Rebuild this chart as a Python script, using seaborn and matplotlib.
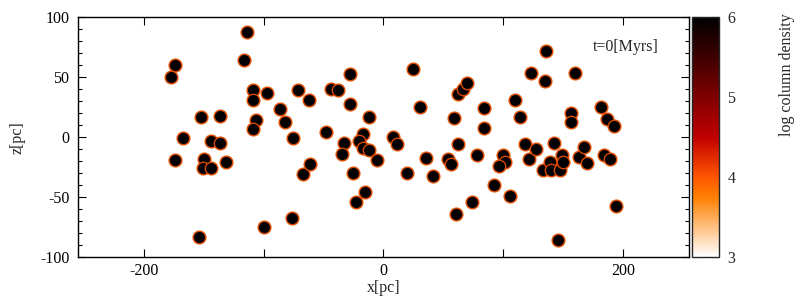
import matplotlib
matplotlib.use("Agg")
import matplotlib.pyplot as plt
import matplotlib.colors as mcolors
import matplotlib.cm as cm
from matplotlib.ticker import MultipleLocator
import pandas as pd
import seaborn as sns

# posiciones de las nubes (pc)
x_pc = [-114, -116, -174, -177, -109, -109, -97, -71, -62, -86, -82, -75, -106, -109,
        -152, -136, -167, -144, -136, -174, -149.5, -150.5, -144, -131, -153.5, -100,
        -76, -67, -61, -48, -44, -38, -28, -28, -12, -32.5, -34.5, -17, -20.5, -17, -12,
        -5.5, -25, -15, -22.5, 8, 11, 20, 25, 30.5, 35.5, 41.5, 53.5, 56.5, 60.5, 74,
        62.5, 78, 58.5, 62.5, 66, 69.5, 83.5, 83.5, 109.5, 113.5, 92, 105.5, 99.5, 101,
        96.5, 118, 121, 127, 123, 135.5, 135, 142.5, 133, 138.5, 140, 147, 148.5, 149.5,
        159.5, 156.5, 156.5, 163, 167.5, 169.5, 181.5, 186.5, 192, 183.5, 188.5, 193.5,
        145.5]
z_pc = [88, 64.5, 60, 50, 39.5, 31, 37, 39.5, 31, 23.5, 13, -0.5, 14, 7, 17, 18, -0.5,
        -3, -4.5, -19, -18.5, -26, -26, -21, -83.5, -75, -67.5, -31, -22.5, 4, 40.5,
        39.5, 52.5, 28, 17, -4.5, -14, 2.5, -3, -9, -11, -19, -29.5, -46, -54, 0, -6,
        -29.5, 57, 25.5, -17, -32.5, -18.5, -22.5, -64, -54.5, -5.5, -15, 16, 36, 40.5,
        45.5, 24, 8, 31, 17, -40, -49.5, -14.5, -20.5, -24, -6, -18.5, -10, 53.5, 72,
        46.5, -4.5, -27.5, -20.5, -27.5, -27, -15, -20.5, 53.5, 20.5, 13, -16.5, -8,
        -21.5, 25, 15, 9, -15, -18.5, -57.5, -86]

xticks = [-200, -100, 0, 100, 200]
xticklabels = ["-200", "", "0", "", "200"]
yticks = [-100, -50, 0, 50, 100]
cbar_ticks = [3, 4, 5, 6]

df = pd.DataFrame({"x": x_pc, "z": z_pc})

sns.set_style("ticks")
plt.rcParams["font.family"] = ["Liberation Serif", "DejaVu Serif"]
plt.rcParams["font.size"] = 11.5
plt.rcParams["axes.unicode_minus"] = False

fig = plt.figure(figsize=(8, 3), dpi=100)
ax = fig.add_axes([0.097, 0.1433, 0.7646, 0.799])
cax = fig.add_axes([0.8654, 0.1433, 0.0334, 0.799])

# halo naranja suave + nucleo negro
sns.scatterplot(data=df, x="x", y="z", ax=ax, s=112, color="#ffc090", alpha=0.6,
                linewidth=0, legend=False, zorder=2)
sns.scatterplot(data=df, x="x", y="z", ax=ax, s=80, color="black",
                edgecolor="#d84800", linewidth=1.0, legend=False, zorder=3)

ax.set_xlim(-255, 255)
ax.set_ylim(-100, 100)
ax.set_xticks(xticks)
ax.set_xticklabels(xticklabels)
ax.set_yticks(yticks)
ax.yaxis.set_minor_locator(MultipleLocator(10))
ax.tick_params(which="both", direction="in", top=True, right=True, width=0.8,
               labelsize=11.5, colors="black")
ax.tick_params(which="major", length=6)
ax.tick_params(which="minor", length=3)
ax.tick_params(axis="x", pad=4)
ax.tick_params(axis="y", pad=6)
for s in ax.spines.values():
    s.set_linewidth(1.0)
    s.set_color("black")
ax.set_xlabel("x[pc]", fontsize=11.5, labelpad=1)
ax.set_ylabel("z[pc]", fontsize=11.5, labelpad=10)
ax.text(0.95, 0.875, "t=0[Myrs]", transform=ax.transAxes, ha="right", va="center",
        fontsize=11.5)

# barra de color
norm = mcolors.Normalize(vmin=3, vmax=6)
sm = cm.ScalarMappable(norm=norm, cmap="gist_heat_r")
cb = fig.colorbar(sm, cax=cax)
cb.set_ticks(cbar_ticks)
cax.yaxis.set_minor_locator(MultipleLocator(0.2))
cax.tick_params(which="both", direction="in", left=True, right=True, width=0.8,
                labelsize=11.5, pad=6)
cax.tick_params(which="major", length=6)
cax.tick_params(which="minor", length=3)
cb.outline.set_linewidth(1.0)
fig.text(0.984, 0.75, "log column density", rotation=90, ha="center", va="center",
         fontsize=11.5)

fig.savefig("out.png", dpi=100)
